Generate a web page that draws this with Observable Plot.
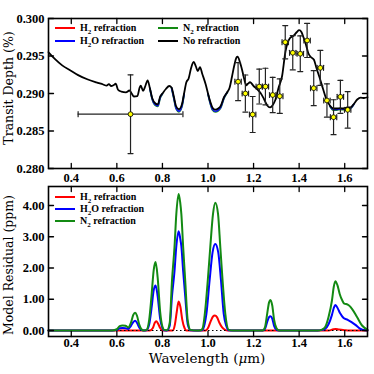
<!DOCTYPE html>
<html><head><meta charset="utf-8">
<script src="https://cdn.jsdelivr.net/npm/d3@7"></script>
<script src="https://cdn.jsdelivr.net/npm/@observablehq/plot@0.6"></script>
<style>
body{margin:0;background:#fff;}
#wrap{position:relative;width:374px;height:374px;font-family:"DejaVu Serif",serif;color:#000;overflow:hidden;}
#wrap svg{position:absolute;left:0;}
.lg{position:absolute;font-family:"Liberation Serif",serif;font-weight:bold;font-size:10px;white-space:nowrap;line-height:10px;}
.sw{position:absolute;height:2px;width:20px;}
.ttl{position:absolute;font-size:12.5px;white-space:nowrap;line-height:1;}
</style></head><body><div id="wrap"></div>
<script>
// ---------- data ----------
const xTicks = [0.4, 0.6, 0.8, 1.0, 1.2, 1.4, 1.6];
const depthTicks = [0.280, 0.285, 0.290, 0.295, 0.300];
const residTicks = [0, 1, 2, 3, 4];

// Top panel: model transit depth without refraction (%)
const topWave = [0.30,0.33,0.36,0.40,0.43,0.47,0.51,0.54,0.555,0.565,0.575,0.585,0.595,0.605,0.62,0.64,0.655,0.665,0.675,0.69,0.70,0.705,0.715,0.725,0.735,0.745,0.755,0.77,0.78,0.79,0.80,0.815,0.83,0.84,0.85,0.86,0.872,0.885,0.895,0.905,0.915,0.925,0.937,0.947,0.955,0.965,0.975,0.99,1.00,1.01,1.02,1.032,1.045,1.055,1.07,1.085,1.095,1.105,1.115,1.125,1.13,1.14,1.15,1.16,1.168,1.175,1.185,1.20,1.215,1.23,1.245,1.26,1.272,1.285,1.295,1.31,1.325,1.34,1.35,1.36,1.375,1.39,1.40,1.41,1.42,1.43,1.44,1.45,1.465,1.475,1.49,1.505,1.52,1.535,1.55,1.565,1.58,1.595,1.61,1.625,1.64,1.655,1.67,1.685,1.70];
const topNoRefr = [0.29550,0.29455,0.29375,0.29300,0.29245,0.29190,0.29148,0.29120,0.29105,0.29125,0.29100,0.29110,0.29130,0.29050,0.29025,0.29015,0.29040,0.29000,0.28960,0.28965,0.29080,0.29105,0.29035,0.29100,0.29175,0.29070,0.28940,0.28865,0.28855,0.28960,0.29000,0.29060,0.29100,0.29080,0.28960,0.28830,0.28790,0.28850,0.29000,0.29150,0.29200,0.29330,0.29420,0.29360,0.29300,0.29350,0.29260,0.29120,0.29000,0.28890,0.28810,0.28785,0.28800,0.28830,0.28950,0.29020,0.29080,0.29220,0.29370,0.29480,0.29493,0.29420,0.29310,0.29180,0.29110,0.29130,0.29150,0.29100,0.29060,0.29010,0.28930,0.28840,0.28815,0.28850,0.28910,0.29080,0.29230,0.29560,0.29680,0.29740,0.29770,0.29820,0.29845,0.29820,0.29740,0.29650,0.29540,0.29490,0.29450,0.29350,0.29210,0.29060,0.28920,0.28840,0.28800,0.28800,0.28805,0.28800,0.28815,0.28815,0.28860,0.28920,0.28945,0.28940,0.28950];

// Top panel: refraction models where they separate from the no-refraction model
const topRefrWave = [0.745,0.755,0.77,0.78,0.79,0.80, 0.84,0.85,0.86,0.872,0.885,0.895, 1.00,1.01,1.02,1.032,1.045,1.055,1.07,1.085, 1.535,1.55,1.565,1.58,1.595,1.61,1.625,1.64];
const topRefrSeg  = [1,1,1,1,1,1, 2,2,2,2,2,2, 3,3,3,3,3,3,3,3, 4,4,4,4,4,4,4,4];
const topN2  = [0.29068,0.28925,0.28840,0.28830,0.28940,0.28995, 0.29075,0.28935,0.28797,0.28757,0.28820,0.28990, 0.28992,0.28865,0.28780,0.28755,0.28770,0.28805,0.28935,0.29017, 0.28830,0.28780,0.28780,0.28788,0.28785,0.28800,0.28803,0.28855];
const topH2O = [0.29069,0.28930,0.28848,0.28838,0.28947,0.28997, 0.29077,0.28942,0.28806,0.28765,0.28828,0.28993, 0.28995,0.28872,0.28788,0.28763,0.28778,0.28812,0.28940,0.29018, 0.28835,0.28788,0.28788,0.28795,0.28791,0.28806,0.28808,0.28857];

// Observations
const obsWave     = [0.66,1.132,1.164,1.196,1.225,1.252,1.284,1.315,1.339,1.372,1.405,1.435,1.464,1.493,1.522,1.551,1.581,1.613];
const obsWaveErr  = [0.23,0.014,0.014,0.014,0.014,0.014,0.014,0.014,0.014,0.014,0.014,0.014,0.014,0.014,0.014,0.014,0.014,0.014];
const obsDepth    = [0.28724,0.29158,0.29000,0.28720,0.29093,0.29093,0.28980,0.28964,0.29684,0.29543,0.29530,0.29707,0.29071,0.29342,0.28907,0.28684,0.28956,0.28782];
const obsDepthErr = [0.00525,0.00253,0.00247,0.00240,0.00233,0.00244,0.00236,0.00230,0.00222,0.00229,0.00238,0.00227,0.00233,0.00233,0.00222,0.00233,0.00220,0.00244];

// Bottom panel: model residuals (ppm)
const n2Wave  = [0.30,0.58,0.60,0.612,0.625,0.638,0.65,0.662,0.672,0.68,0.688,0.698,0.708,0.718,0.73,0.742,0.752,0.762,0.77,0.779,0.79,0.80,0.808,0.82,0.832,0.842,0.853,0.861,0.871,0.878,0.883,0.891,0.90,0.911,0.923,0.95,0.968,0.976,0.986,0.999,1.01,1.022,1.032,1.044,1.054,1.064,1.076,1.091,1.11,1.24,1.25,1.26,1.268,1.274,1.282,1.29,1.30,1.31,1.32,1.48,1.50,1.515,1.529,1.544,1.552,1.559,1.568,1.578,1.59,1.598,1.613,1.622,1.632,1.654,1.676,1.70];
const n2Resid = [0,0,0.04,0.14,0.16,0.15,0.10,0.25,0.50,0.57,0.48,0.20,0.04,0,0.02,0.35,1.10,1.95,2.19,1.70,0.60,0.12,0.02,0.01,0.25,1.60,2.67,3.73,4.37,4.10,3.73,2.67,1.60,0.32,0.02,0,0.01,0.06,0.53,1.60,2.67,3.73,4.09,3.73,2.67,1.60,0.53,0.02,0,0,0.10,0.55,0.90,0.98,0.80,0.35,0.08,0.01,0,0,0.03,0.12,0.43,0.96,1.40,1.58,1.45,1.17,0.95,0.86,0.83,0.78,0.69,0.43,0.16,0.03];

const h2oWave  = [0.30,0.58,0.60,0.612,0.625,0.638,0.65,0.662,0.672,0.68,0.688,0.698,0.708,0.718,0.73,0.742,0.752,0.762,0.77,0.779,0.79,0.80,0.808,0.82,0.832,0.842,0.853,0.861,0.871,0.878,0.883,0.891,0.90,0.911,0.923,0.95,0.975,0.985,0.993,1.007,1.02,1.032,1.045,1.057,1.069,1.08,1.09,1.11,1.24,1.25,1.26,1.268,1.274,1.282,1.29,1.30,1.31,1.48,1.50,1.515,1.529,1.544,1.552,1.559,1.57,1.58,1.595,1.613,1.63,1.647,1.665,1.68,1.70];
const h2oResid = [0,0,0.02,0.07,0.08,0.07,0.05,0.15,0.27,0.31,0.25,0.10,0.02,0,0.01,0.20,0.70,1.30,1.44,1.10,0.38,0.08,0.01,0,0.15,1.10,1.90,2.70,3.18,2.95,2.70,1.90,1.10,0.20,0.01,0,0.01,0.20,0.53,1.60,2.50,2.77,2.50,1.60,0.53,0.15,0.01,0,0,0.05,0.28,0.43,0.46,0.38,0.15,0.03,0,0,0.02,0.06,0.20,0.50,0.72,0.82,0.70,0.55,0.40,0.34,0.27,0.18,0.07,0.02,0];

const h2Wave  = [0.30,0.745,0.758,0.766,0.773,0.781,0.79,0.80,0.845,0.855,0.863,0.871,0.879,0.887,0.897,0.905,0.99,1.00,1.012,1.022,1.03,1.04,1.05,1.062,1.075,1.085,1.53,1.55,1.56,1.575,1.60,1.62,1.70];
const h2Resid = [0,0,0.08,0.24,0.30,0.22,0.08,0,0,0.20,0.60,0.93,0.75,0.35,0.08,0,0,0.08,0.30,0.45,0.48,0.42,0.25,0.10,0.02,0,0,0.04,0.05,0.03,0.01,0,0];

// ---------- helpers ----------
const zip = (xs, ys, extra = {}) => xs.map((x, i) => {
  const o = {x, y: ys[i]};
  for (const k in extra) o[k] = extra[k][i];
  return o;
});
const tickShape = {draw(ctx, l) { ctx.moveTo(0, 0); ctx.lineTo(0, -l); }};
function frameTicks(xt, yt) {
  const s = {stroke: "black", strokeWidth: 1.3, length: 5, anchor: "start", shape: tickShape};
  return [
    Plot.vector(xt, {x: d => d, frameAnchor: "bottom", rotate: 0, ...s}),
    Plot.vector(xt, {x: d => d, frameAnchor: "top", rotate: 180, ...s}),
    Plot.vector(yt, {y: d => d, frameAnchor: "left", rotate: 90, ...s}),
    Plot.vector(yt, {y: d => d, frameAnchor: "right", rotate: -90, ...s})
  ];
}
const fontStyle = {fontFamily: "Liberation Serif", fontWeight: "bold", fontSize: "12.5px", background: "transparent", color: "black"};

// ---------- top panel ----------
const obs = obsWave.map((w, i) => ({w, v: obsDepth[i], we: obsWaveErr[i], ve: obsDepthErr[i]}));
const refr = zip(topRefrWave, topN2, {h2o: topH2O, seg: topRefrSeg});
const errStroke = "#222";
const topPlot = Plot.plot({
  width: 374, height: 185,
  marginLeft: 48, marginRight: 7, marginTop: 18, marginBottom: 17,
  style: fontStyle,
  x: {domain: [0.3, 1.7], label: null},
  y: {domain: [0.280, 0.300], label: null},
  marks: [
    Plot.line(refr, {x: "x", y: "y", z: "seg", stroke: "#1a8a1a", strokeWidth: 1.8, curve: "monotone-x"}),
    Plot.line(refr, {x: "x", y: "h2o", z: "seg", stroke: "#1010ff", strokeWidth: 1.6, curve: "monotone-x"}),
    Plot.line(zip(topWave, topNoRefr), {x: "x", y: "y", stroke: "black", strokeWidth: 1.8, curve: "monotone-x"}),
    Plot.ruleX(obs, {x: "w", y1: d => d.v - d.ve, y2: d => d.v + d.ve, stroke: errStroke, strokeWidth: 1.2}),
    Plot.ruleY(obs, {y: "v", x1: d => d.w - d.we, x2: d => d.w + d.we, stroke: errStroke, strokeWidth: 1.2}),
    Plot.vector(obs, {x: "w", y: d => d.v + d.ve, rotate: 90, length: 5, anchor: "middle", shape: tickShape, stroke: errStroke, strokeWidth: 1.2}),
    Plot.vector(obs, {x: "w", y: d => d.v - d.ve, rotate: 90, length: 5, anchor: "middle", shape: tickShape, stroke: errStroke, strokeWidth: 1.2}),
    Plot.vector(obs, {x: d => d.w - d.we, y: "v", rotate: 0, length: 5, anchor: "middle", shape: tickShape, stroke: errStroke, strokeWidth: 1.2}),
    Plot.vector(obs, {x: d => d.w + d.we, y: "v", rotate: 0, length: 5, anchor: "middle", shape: tickShape, stroke: errStroke, strokeWidth: 1.2}),
    Plot.dot(obs, {x: "w", y: "v", r: 2.4, fill: "#ffff00", stroke: "black", strokeWidth: 0.8}),
    Plot.frame({stroke: "black", strokeWidth: 1.6}),
    ...frameTicks(xTicks, depthTicks),
    Plot.axisX(xTicks, {tickSize: 0, tickPadding: 5, tickFormat: d => d.toFixed(1), label: null}),
    Plot.axisY(depthTicks, {tickSize: 0, tickPadding: 4, tickFormat: d => d.toFixed(3), label: null})
  ]
});
topPlot.style.top = "0px";

// ---------- bottom panel ----------
const bottomPlot = Plot.plot({
  width: 374, height: 189,
  marginLeft: 48, marginRight: 7, marginTop: 1, marginBottom: 38,
  style: fontStyle,
  x: {domain: [0.3, 1.7], label: null},
  y: {domain: [-0.192, 4.608], label: null},
  marks: [
    Plot.line(zip(h2Wave, h2Resid), {x: "x", y: "y", stroke: "#ff0000", strokeWidth: 2, curve: "monotone-x"}),
    Plot.ruleY([0], {stroke: "black", strokeWidth: 1.2, strokeDasharray: "1.5,2.5"}),
    Plot.line(zip(h2oWave, h2oResid), {x: "x", y: "y", stroke: "#0000ff", strokeWidth: 2, curve: "monotone-x"}),
    Plot.line(zip(n2Wave, n2Resid), {x: "x", y: "y", stroke: "#138a13", strokeWidth: 2, curve: "monotone-x"}),
    Plot.frame({stroke: "black", strokeWidth: 1.6}),
    ...frameTicks(xTicks, residTicks),
    Plot.axisX(xTicks, {tickSize: 0, tickPadding: 2, tickFormat: d => d.toFixed(1), label: null}),
    Plot.axisY(residTicks, {tickSize: 0, tickPadding: 4, tickFormat: d => d.toFixed(2), label: null})
  ]
});
bottomPlot.style.top = "185px";

const wrap = document.getElementById("wrap");
wrap.appendChild(topPlot);
wrap.appendChild(bottomPlot);

// ---------- legends & titles ----------
function legend(items) {
  for (const it of items) {
    const sw = document.createElement("div");
    sw.className = "sw";
    sw.style.left = it.lx + "px";
    sw.style.top = (it.y - 1) + "px";
    sw.style.background = it.color;
    wrap.appendChild(sw);
    const t = document.createElement("div");
    t.className = "lg";
    t.style.left = (it.lx + 25) + "px";
    t.style.top = (it.y - 5.5) + "px";
    t.innerHTML = it.text;
    wrap.appendChild(t);
  }
}
const legendNames = ["H<sub style='font-size:7px'>2</sub> refraction", "H<sub style='font-size:7px'>2</sub>O refraction", "N<sub style='font-size:7px'>2</sub> refraction", "No refraction"];
const legendColors = ["#ff0000", "#0000ff", "#138a13", "#000000"];
legend([
  {lx: 55, y: 28, color: legendColors[0], text: legendNames[0]},
  {lx: 55, y: 41, color: legendColors[1], text: legendNames[1]},
  {lx: 158, y: 28, color: legendColors[2], text: legendNames[2]},
  {lx: 158, y: 41, color: legendColors[3], text: legendNames[3]},
  {lx: 55, y: 197, color: legendColors[0], text: legendNames[0]},
  {lx: 55, y: 209, color: legendColors[1], text: legendNames[1]},
  {lx: 55, y: 221, color: legendColors[2], text: legendNames[2]}
]);
function title(text, cx, cy, rot, size) {
  const d = document.createElement("div");
  d.className = "ttl";
  d.style.left = cx + "px";
  d.style.top = cy + "px";
  d.style.fontSize = size + "px";
  d.style.transform = `translate(-50%,-50%)${rot ? " rotate(-90deg)" : ""}`;
  d.innerHTML = text;
  wrap.appendChild(d);
}
title("Transit Depth (%)", 9, 88, true, 12.5);
title("Model Residual (ppm)", 9, 265, true, 12.5);
title("Wavelength (<i>μ</i>m)", 207, 359, false, 13.5);
</script></body></html>
